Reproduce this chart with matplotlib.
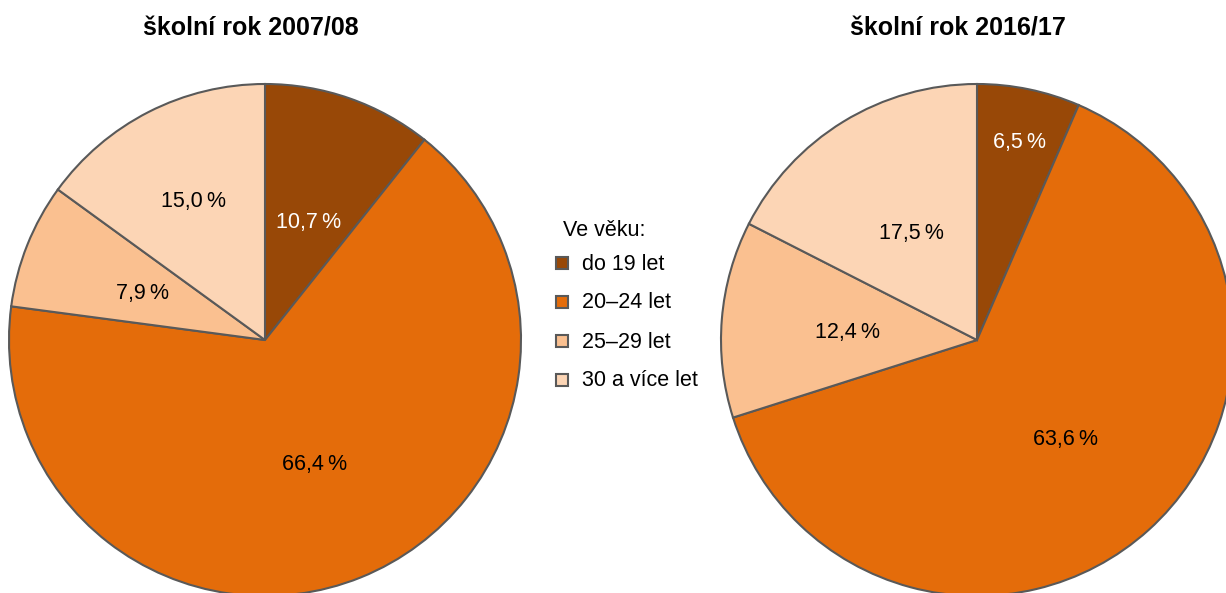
import numpy as np
import matplotlib
matplotlib.use("Agg")
import matplotlib.pyplot as plt
from matplotlib.patches import Rectangle

plt.rcParams['font.family'] = ['Liberation Sans', 'DejaVu Sans']

categories = ["do 19 let", "20–24 let", "25–29 let", "30 a více let"]
values_2007 = [10.7, 66.4, 7.9, 15.0]
values_2016 = [6.5, 63.6, 12.4, 17.5]
titles = ["školní rok 2007/08", "školní rok 2016/17"]
legend_title = "Ve věku:"
colors = ["#984807", "#E46C0A", "#FAC090", "#FCD5B5"]
edge = "#595959"

# label radial distances (fraction of radius) per slice, as placed in the reference
label_dist = [[0.50, 0.51, 0.52, 0.62], [0.80, 0.51, 0.51, 0.50]]

W, H = 1226, 593
fig = plt.figure(figsize=(W / 100, H / 100), dpi=100)
ax = fig.add_axes([0, 0, 1, 1])

centers = [(265, H - 340), (977, H - 340)]
R = 256
title_x = [251, 958]

def fmt(v):
    return f"{v:.1f}".replace(".", ",") + "\u2009%"

for vals, c, t, tx, ld in zip([values_2007, values_2016], centers, titles, title_x, label_dist):
    wedges, _ = ax.pie(vals, colors=colors, startangle=90, counterclock=False,
                       center=c, radius=R,
                       wedgeprops=dict(edgecolor=edge, linewidth=1.5))
    for w, v, col, d in zip(wedges, vals, colors, ld):
        ang = np.deg2rad((w.theta1 + w.theta2) / 2)
        x = c[0] + d * R * np.cos(ang) + 1
        y = c[1] + d * R * np.sin(ang) - 3
        ax.text(x, y, fmt(v), ha='center', va='center', fontsize=15.5,
                color='white' if col == colors[0] else 'black')
    ax.text(tx, H - 28, t, ha='center', va='center', fontsize=18, fontweight='bold')

ax.set_xlim(0, W)
ax.set_ylim(0, H)
ax.set_aspect('auto')
ax.set_axis_off()

# legend
ax.text(563, H - 231, legend_title, ha='left', va='center', fontsize=15.5)
for i, (cat, col) in enumerate(zip(categories, colors)):
    y = H - (263 + 39 * i)
    ax.add_patch(Rectangle((556, y - 6), 12, 12, facecolor=col, edgecolor=edge, linewidth=1.5))
    ax.text(582, y - 1, cat, ha='left', va='center', fontsize=15.5)

fig.savefig("out.png", dpi=100)
